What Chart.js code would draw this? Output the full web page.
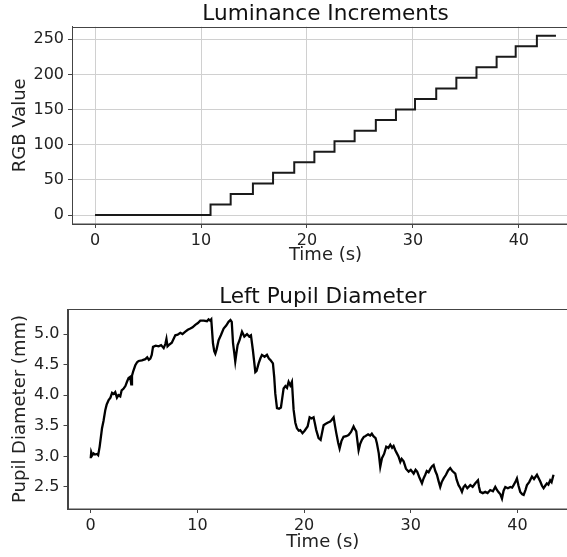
<!DOCTYPE html>
<html>
<head>
<meta charset="utf-8">
<script src="https://cdn.jsdelivr.net/npm/chart.js@4.4.1/dist/chart.umd.min.js"></script>
<style>
  html, body { margin: 0; padding: 0; background: #fff; overflow: hidden; width: 567px; height: 557px; }
  .box { position: absolute; left: 0; width: 620px; }
  #topBox { top: 0; height: 270px; }
  #bottomBox { top: 280px; height: 277px; }
</style>
</head>
<body>
<div class="box" id="topBox"><canvas id="lumChart"></canvas></div>
<div class="box" id="bottomBox"><canvas id="pupilChart"></canvas></div>
<script>
// step times (s) and the RGB value held from that time on
const stepTime = [0, 10.9, 12.8, 14.9, 16.8, 18.8, 20.7, 22.6, 24.5, 26.5, 28.4, 30.2, 32.2, 34.1, 36.0, 37.9, 39.7, 41.7, 43.5];
const stepRGB = [0, 15, 30, 45, 60, 75, 90, 105, 120, 135, 150, 165, 180, 195, 210, 225, 240, 255, 255];

// left pupil diameter trace
const pupilTime = [
  0.00, 0.05, 0.15, 0.27, 0.40, 0.59, 0.70, 0.84, 1.06, 1.20,
  1.37, 1.50, 1.68, 1.85, 2.00, 2.15, 2.30, 2.46, 2.60, 2.77,
  2.90, 3.09, 3.25, 3.40, 3.55, 3.71, 3.80, 3.87, 4.00, 4.18,
  4.35, 4.49, 4.80, 5.12, 5.30, 5.45, 5.59, 5.72, 5.84, 6.10,
  6.37, 6.60, 6.84, 7.00, 7.10, 7.20, 7.31, 7.60, 7.93, 8.15,
  8.40, 8.60, 8.87, 9.10, 9.34, 9.55, 9.80, 10.05, 10.27, 10.60,
  10.90, 11.05, 11.20, 11.30, 11.46, 11.58, 11.68, 11.80, 11.99, 12.20,
  12.46, 12.70, 12.92, 13.10, 13.22, 13.34, 13.45, 13.55, 13.65, 13.77,
  13.95, 14.18, 14.40, 14.65, 14.85, 15.02, 15.20, 15.43, 15.55, 15.74,
  15.90, 16.05, 16.30, 16.52, 16.70, 16.83, 17.08, 17.20, 17.30, 17.46,
  17.65, 17.83, 17.95, 18.08, 18.25, 18.40, 18.55, 18.71, 18.86, 19.02,
  19.18, 19.33, 19.50, 19.64, 19.85, 20.05, 20.33, 20.52, 20.70, 20.89,
  21.00, 21.14, 21.36, 21.55, 21.70, 21.83, 22.00, 22.20, 22.45, 22.60,
  22.77, 22.90, 23.02, 23.20, 23.33, 23.50, 23.70, 23.95, 24.17, 24.40,
  24.64, 24.75, 24.89, 25.00, 25.11, 25.25, 25.42, 25.60, 25.73, 26.00,
  26.20, 26.35, 26.50, 26.70, 26.83, 27.00, 27.14, 27.30, 27.50, 27.70,
  27.90, 28.08, 28.25, 28.39, 28.55, 28.70, 28.85, 29.02, 29.15, 29.33,
  29.55, 29.80, 30.00, 30.27, 30.45, 30.60, 30.80, 31.05, 31.20, 31.36,
  31.50, 31.67, 31.85, 32.00, 32.14, 32.30, 32.45, 32.60, 32.76, 32.90,
  33.08, 33.30, 33.50, 33.70, 33.90, 34.17, 34.30, 34.48, 34.65, 34.80,
  34.95, 35.10, 35.30, 35.58, 35.80, 36.05, 36.30, 36.40, 36.51, 36.75,
  36.98, 37.20, 37.45, 37.70, 37.92, 38.05, 38.20, 38.40, 38.55, 38.70,
  38.86, 39.10, 39.33, 39.50, 39.64, 39.80, 39.95, 40.10, 40.26, 40.45,
  40.58, 40.75, 40.89, 41.10, 41.36, 41.55, 41.83, 42.00, 42.14, 42.30,
  42.45, 42.60, 42.76, 42.90, 43.07, 43.20, 43.38];
const pupilDiam = [
  2.97, 3.07, 3.02, 3.05, 3.03, 3.04, 3.02, 3.16, 3.46, 3.58,
  3.76, 3.85, 3.92, 3.96, 4.04, 4.02, 4.05, 3.96, 4.00, 3.98,
  4.08, 4.11, 4.15, 4.22, 4.28, 4.30, 4.18, 4.32, 4.40, 4.49,
  4.54, 4.56, 4.57, 4.59, 4.62, 4.58, 4.60, 4.66, 4.79, 4.81,
  4.80, 4.82, 4.77, 4.84, 4.92, 4.80, 4.82, 4.86, 4.98, 4.99,
  5.02, 5.00, 5.04, 5.07, 5.09, 5.11, 5.15, 5.18, 5.22, 5.22,
  5.21, 5.24, 5.22, 5.24, 4.85, 4.72, 4.68, 4.75, 4.90, 4.98,
  5.09, 5.14, 5.20, 5.23, 5.20, 4.85, 4.70, 4.55, 4.68, 4.82,
  4.90, 5.04, 4.96, 5.00, 4.96, 4.98, 4.74, 4.38, 4.40, 4.52,
  4.60, 4.66, 4.63, 4.66, 4.60, 4.58, 4.52, 4.30, 4.03, 3.79,
  3.78, 3.80, 3.95, 4.11, 4.15, 4.12, 4.22, 4.16, 4.22, 3.76,
  3.55, 3.46, 3.42, 3.43, 3.38, 3.42, 3.49, 3.64, 3.62, 3.64,
  3.55, 3.43, 3.30, 3.27, 3.40, 3.51, 3.53, 3.55, 3.57, 3.60,
  3.64, 3.50, 3.38, 3.22, 3.13, 3.25, 3.32, 3.33, 3.35, 3.40,
  3.49, 3.45, 3.41, 3.25, 3.10, 3.20, 3.27, 3.32, 3.33, 3.36,
  3.34, 3.37, 3.33, 3.30, 3.21, 3.05, 2.83, 2.97, 3.04, 3.16,
  3.14, 3.19, 3.14, 3.17, 3.10, 3.05, 3.00, 2.91, 2.96, 2.92,
  2.80, 2.75, 2.78, 2.72, 2.78, 2.75, 2.66, 2.56, 2.64, 2.70,
  2.76, 2.74, 2.80, 2.84, 2.86, 2.76, 2.70, 2.60, 2.50, 2.58,
  2.64, 2.70, 2.77, 2.81, 2.76, 2.72, 2.62, 2.53, 2.48, 2.42,
  2.50, 2.53, 2.48, 2.53, 2.50, 2.56, 2.61, 2.50, 2.42, 2.40,
  2.42, 2.40, 2.45, 2.43, 2.50, 2.46, 2.42, 2.38, 2.31, 2.44,
  2.50, 2.48, 2.50, 2.49, 2.53, 2.58, 2.64, 2.52, 2.42, 2.38,
  2.37, 2.45, 2.53, 2.58, 2.67, 2.63, 2.70, 2.64, 2.59, 2.52,
  2.48, 2.52, 2.56, 2.54, 2.61, 2.58, 2.70];

const timeTicks = [0, 10, 20, 30, 40];
const rgbTicks = [0, 50, 100, 150, 200, 250];
const pupilTicks = [2.5, 3.0, 3.5, 4.0, 4.5, 5.0];

const FONT = 'DejaVu Sans';
const TEXT = '#222';
const SPINE = '#444';

// matplotlib style box round the plot area
const frame = {
  id: 'frame',
  afterDatasetsDraw(chart) {
    const { ctx, chartArea: a } = chart;
    ctx.save();
    ctx.strokeStyle = SPINE;
    ctx.lineWidth = 1;
    const l = Math.round(a.left) + 0.5, t = Math.round(a.top) + 0.5;
    ctx.strokeRect(l, t, Math.round(a.right) - l, Math.round(a.bottom) - t);
    ctx.restore();
  }
};

function xAxis(height, grid) {
  return {
    type: 'linear', min: -2.175, max: 45.675,
    afterBuildTicks: s => { s.ticks = timeTicks.map(v => ({ value: v })); },
    afterFit: s => { s.height = height; },
    ticks: { color: TEXT, font: { family: FONT, size: 16 }, padding: 3, maxRotation: 0, autoSkip: false },
    grid: { display: true, drawOnChartArea: grid, color: '#d0d0d0', tickColor: SPINE, tickLength: 4 },
    border: { color: SPINE },
    title: { display: true, text: 'Time (s)', color: TEXT, font: { family: FONT, size: 18 }, padding: { top: 0, bottom: 4 } }
  };
}

function yAxis(width, min, max, tickList, fmt, label, grid) {
  return {
    type: 'linear', min: min, max: max,
    afterBuildTicks: s => { s.ticks = tickList.map(v => ({ value: v })); },
    afterFit: s => { s.width = width; },
    ticks: { color: TEXT, font: { family: FONT, size: 16 }, padding: 4, callback: fmt },
    grid: { display: true, drawOnChartArea: grid, color: '#d0d0d0', tickColor: SPINE, tickLength: 4 },
    border: { color: SPINE },
    title: { display: true, text: label, color: TEXT, font: { family: FONT, size: 18 }, padding: { top: 10, bottom: 0 } }
  };
}

function titleOpts(text, top, bottom) {
  return {
    display: true, text: text, fullSize: false, color: '#111',
    font: { family: FONT, size: 21.6, weight: 'normal', lineHeight: 1 },
    padding: { top: top, bottom: bottom }
  };
}

new Chart(document.getElementById('lumChart'), {
  type: 'line',
  data: {
    datasets: [{
      data: stepTime.map((t, i) => ({ x: t, y: stepRGB[i] })),
      stepped: 'before',
      borderColor: '#1a1a1a',
      borderWidth: 2,
      pointRadius: 0,
      fill: false
    }]
  },
  options: {
    responsive: true,
    maintainAspectRatio: false,
    animation: false,
    events: [],
    layout: { padding: { left: 0, right: 41, top: 0, bottom: 0 } },
    scales: {
      x: xAxis(46, true),
      y: yAxis(72, -12.75, 267.75, rgbTicks, v => String(v), 'RGB Value', true)
    },
    plugins: {
      legend: { display: false },
      tooltip: { enabled: false },
      title: titleOpts('Luminance Increments', 3.7, 1.4)
    }
  },
  plugins: [frame]
});

new Chart(document.getElementById('pupilChart'), {
  type: 'line',
  data: {
    datasets: [{
      data: pupilTime.map((t, i) => ({ x: t, y: pupilDiam[i] })),
      borderColor: '#000',
      borderWidth: 2.3,
      pointRadius: 0,
      tension: 0,
      fill: false
    }]
  },
  options: {
    responsive: true,
    maintainAspectRatio: false,
    animation: false,
    events: [],
    layout: { padding: { left: 0, right: 42, top: 0, bottom: 0 } },
    scales: {
      x: xAxis(48, false),
      y: yAxis(67.5, 2.14, 5.41, pupilTicks, v => v.toFixed(1), 'Pupil Diameter (mm)', false)
    },
    plugins: {
      legend: { display: false },
      tooltip: { enabled: false },
      title: titleOpts('Left Pupil Diameter', 7, 0.4)
    }
  },
  plugins: [frame]
});
</script>
</body>
</html>
